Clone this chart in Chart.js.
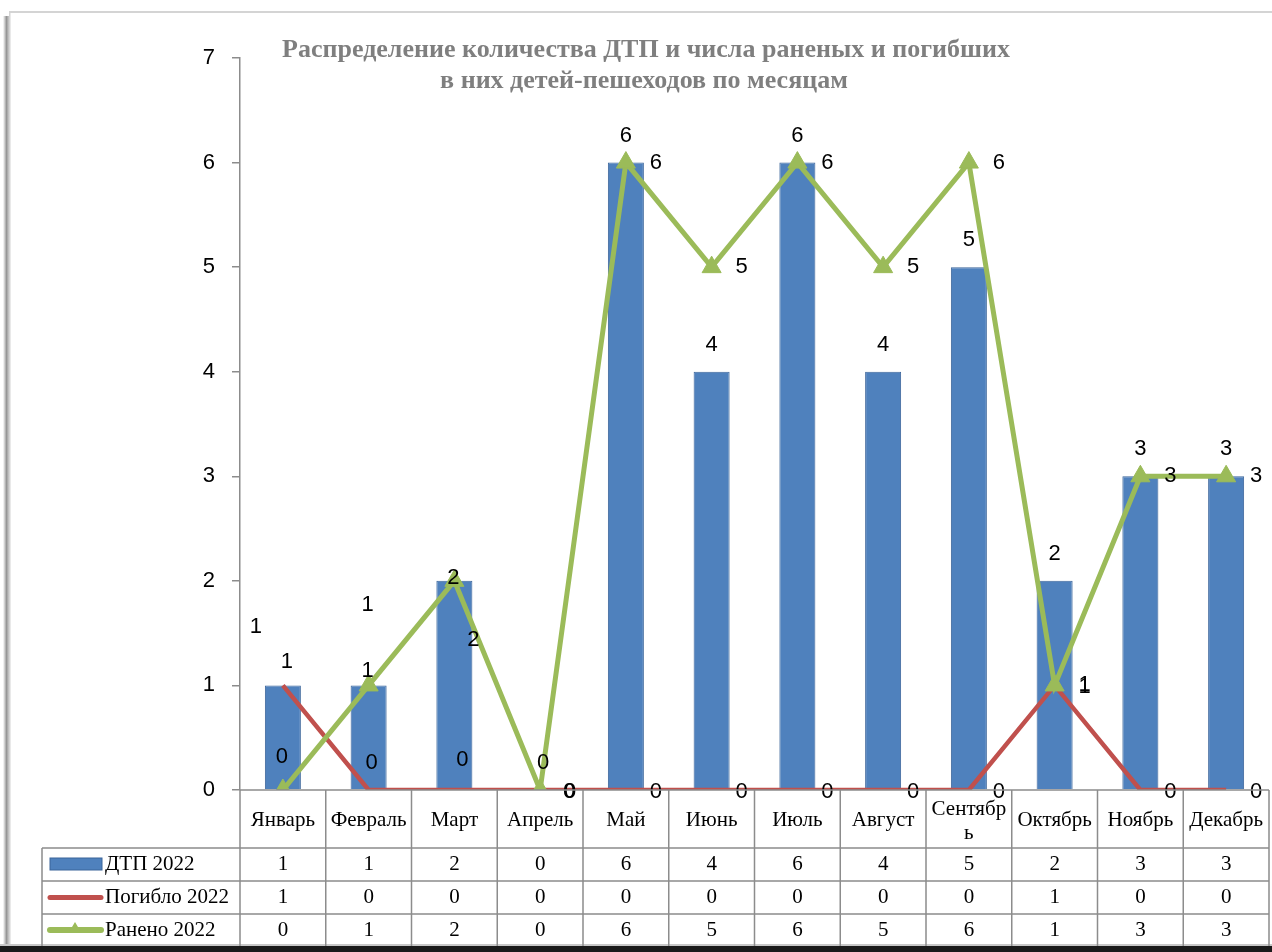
<!DOCTYPE html>
<html>
<head>
<meta charset="utf-8">
<script src="https://cdn.jsdelivr.net/npm/chart.js@4/dist/chart.umd.min.js"></script>
<style>
  html, body { margin: 0; padding: 0; background: #ffffff; }
  #wrap { position: relative; width: 1272px; height: 952px; }
  canvas { display: block; }
</style>
</head>
<body>
<div id="wrap"><canvas id="c" width="1272" height="952"></canvas></div>
<script>
// ---- data ----
const months = ['Январь','Февраль','Март','Апрель','Май','Июнь','Июль','Август','Сентябрь','Октябрь','Ноябрь','Декабрь'];
const dtp2022 = [1, 1, 2, 0, 6, 4, 6, 4, 5, 2, 3, 3];
const pogiblo2022 = [1, 0, 0, 0, 0, 0, 0, 0, 0, 1, 0, 0];
const raneno2022 = [0, 1, 2, 0, 6, 5, 6, 5, 6, 1, 3, 3];
const seriesNames = ['ДТП 2022', 'Погибло 2022', 'Ранено 2022'];
const yTicks = [0, 1, 2, 3, 4, 5, 6, 7];
const titleLines = ['Распределение количества ДТП и числа раненых и погибших', 'в них детей-пешеходов по месяцам'];

// ---- styles ----
const BLUE = '#4F81BD', BLUE_EDGE = '#3B659A', RED = '#C0504D', GREEN = '#9BBB59';
const GRID = '#8C8C8C';
const SANS = '"Liberation Sans", Arial, sans-serif';
const LABEL_FONT = '22px ' + SANS;
const SERIF = '"Liberation Serif", "Times New Roman", serif';

// label offsets (dx, dy) from each mark, per dataset, with per-month overrides
const labelDefault = [[0, -27], [30, 2], [30, 0]];
const labelOverride = {
  0: { 0: [4, -23], 1: [-1, -14], 2: [-1, -3], 3: [3, -27] },
  1: { 0: [-27, -58], 1: [3, -27], 2: [8, -30], 3: [30, 2] },
  2: { 0: [-1, -33], 1: [-1, -80], 2: [19, 59], 3: [29, 2] }
};

const bg = {
  id: 'bg',
  beforeDraw(chart) {
    const ctx = chart.ctx;
    ctx.save();
    ctx.fillStyle = '#ffffff';
    ctx.fillRect(0, 0, chart.width, chart.height);
    const g = ctx.createLinearGradient(3, 0, 10, 0);
    g.addColorStop(0, 'rgba(255,255,255,1)');
    g.addColorStop(0.5, 'rgba(150,150,150,1)');
    g.addColorStop(1, 'rgba(225,225,225,1)');
    ctx.fillStyle = g;
    ctx.fillRect(3, 16, 7, 930);
    ctx.fillStyle = '#d4d4d4';
    ctx.fillRect(9, 11, chart.width - 9, 2);
    ctx.fillRect(9, 11, 1.5, 935);
    ctx.fillStyle = '#c8c8c8';
    ctx.fillRect(0, 944, chart.width, 2);
    ctx.fillStyle = '#1a1a1a';
    ctx.fillRect(0, 946, chart.width, 6);
    ctx.restore();
  }
};

const overlay = {
  id: 'overlay',
  afterDatasetsDraw(chart) {
    const ctx = chart.ctx;
    const xs = chart.scales.x;
    const ca = chart.chartArea;
    ctx.save();
    // data labels
    ctx.font = LABEL_FONT;
    ctx.fillStyle = '#000';
    ctx.textAlign = 'center';
    ctx.textBaseline = 'middle';
    chart.data.datasets.forEach((ds, di) => {
      const meta = chart.getDatasetMeta(di);
      meta.data.forEach((el, i) => {
        const o = (labelOverride[di] && labelOverride[di][i]) || labelDefault[di];
        ctx.fillText(String(ds.data[i]), el.x + o[0], el.y + o[1]);
      });
    });
    // title
    ctx.fillStyle = '#7F7F7F';
    ctx.font = 'bold 26px ' + SERIF;
    ctx.fillText(titleLines[0], 646, 50);
    ctx.fillText(titleLines[1], 644, 81);

    // data table
    const n = months.length;
    const cw = xs.width / n;
    const top = ca.bottom, hdrB = 848, rows = [848, 881, 914, 946];
    const tableLeft = 42;
    ctx.strokeStyle = GRID;
    ctx.lineWidth = 1.5;
    ctx.beginPath();
    ctx.moveTo(ca.left, top); ctx.lineTo(ca.right, top);
    rows.slice(0, 3).forEach(y => { ctx.moveTo(tableLeft, y); ctx.lineTo(ca.right, y); });
    ctx.moveTo(tableLeft, hdrB); ctx.lineTo(tableLeft, 946);
    for (let i = 0; i <= n; i++) {
      const bx = i < n ? xs.getPixelForValue(i) - cw / 2 : xs.getPixelForValue(n - 1) + cw / 2;
      ctx.moveTo(bx, top); ctx.lineTo(bx, 946);
    }
    ctx.stroke();

    // month names
    ctx.fillStyle = '#000';
    ctx.font = '21px ' + SERIF;
    months.forEach((m, i) => {
      const cx = xs.getPixelForValue(i);
      const maxW = cw - 4;
      if (ctx.measureText(m).width <= maxW) {
        ctx.fillText(m, cx, 820);
      } else {
        let a = m;
        while (ctx.measureText(a).width > maxW && a.length > 1) a = a.slice(0, -1);
        ctx.fillText(a, cx, 809);
        ctx.fillText(m.slice(a.length), cx, 833);
      }
    });
    // values
    const series = [dtp2022, pogiblo2022, raneno2022];
    const rowMid = [864.5, 897.5, 930];
    series.forEach((arr, r) => {
      arr.forEach((v, i) => ctx.fillText(String(v), xs.getPixelForValue(i), rowMid[r]));
    });
    // legend keys
    ctx.textAlign = 'left';
    seriesNames.forEach((s, r) => ctx.fillText(s, 105, rowMid[r]));
    ctx.fillStyle = BLUE; ctx.strokeStyle = BLUE_EDGE; ctx.lineWidth = 1;
    ctx.fillRect(50, 858, 52, 12); ctx.strokeRect(50, 858, 52, 12);
    ctx.lineCap = 'round';
    ctx.strokeStyle = RED; ctx.lineWidth = 5;
    ctx.beginPath(); ctx.moveTo(50, 897.5); ctx.lineTo(101, 897.5); ctx.stroke();
    ctx.strokeStyle = GREEN; ctx.lineWidth = 6;
    ctx.beginPath(); ctx.moveTo(50, 930); ctx.lineTo(101, 930); ctx.stroke();
    ctx.fillStyle = GREEN;
    ctx.beginPath(); ctx.moveTo(75, 922); ctx.lineTo(81, 932); ctx.lineTo(69, 932); ctx.closePath(); ctx.fill();
    ctx.restore();
  }
};

new Chart(document.getElementById('c'), {
  data: {
    labels: months,
    datasets: [
      { type: 'bar', label: seriesNames[0], data: dtp2022, backgroundColor: BLUE, borderColor: BLUE_EDGE,
        borderWidth: 1, barPercentage: 0.84, categoryPercentage: 0.5, order: 3 },
      { type: 'line', label: seriesNames[1], data: pogiblo2022, borderColor: RED, borderWidth: 4.5,
        pointRadius: 0, tension: 0, order: 2 },
      { type: 'line', label: seriesNames[2], data: raneno2022, borderColor: GREEN, borderWidth: 5,
        pointStyle: 'triangle', pointRadius: 11, pointBackgroundColor: GREEN, pointBorderColor: GREEN,
        pointBorderWidth: 1, tension: 0, order: 1 }
    ]
  },
  options: {
    responsive: false,
    devicePixelRatio: 1,
    animation: false,
    layout: { autoPadding: false, padding: { left: 0, right: 3, top: 58, bottom: 162 } },
    plugins: { legend: { display: false }, tooltip: { enabled: false }, title: { display: false } },
    scales: {
      x: { type: 'category', display: false, offset: true },
      y: {
        min: 0, max: 7,
        afterBuildTicks: (s) => { s.ticks = yTicks.map(v => ({ value: v })); },
        afterFit: (s) => { s.width = 240; },
        ticks: { color: '#000', font: { family: SANS, size: 22 }, padding: 17 },
        grid: { display: true, drawOnChartArea: false, drawTicks: true, tickLength: 8, color: GRID, lineWidth: 1.5 },
        border: { display: true, color: GRID, width: 1.5 }
      }
    }
  },
  plugins: [bg, overlay]
});
</script>
</body>
</html>
